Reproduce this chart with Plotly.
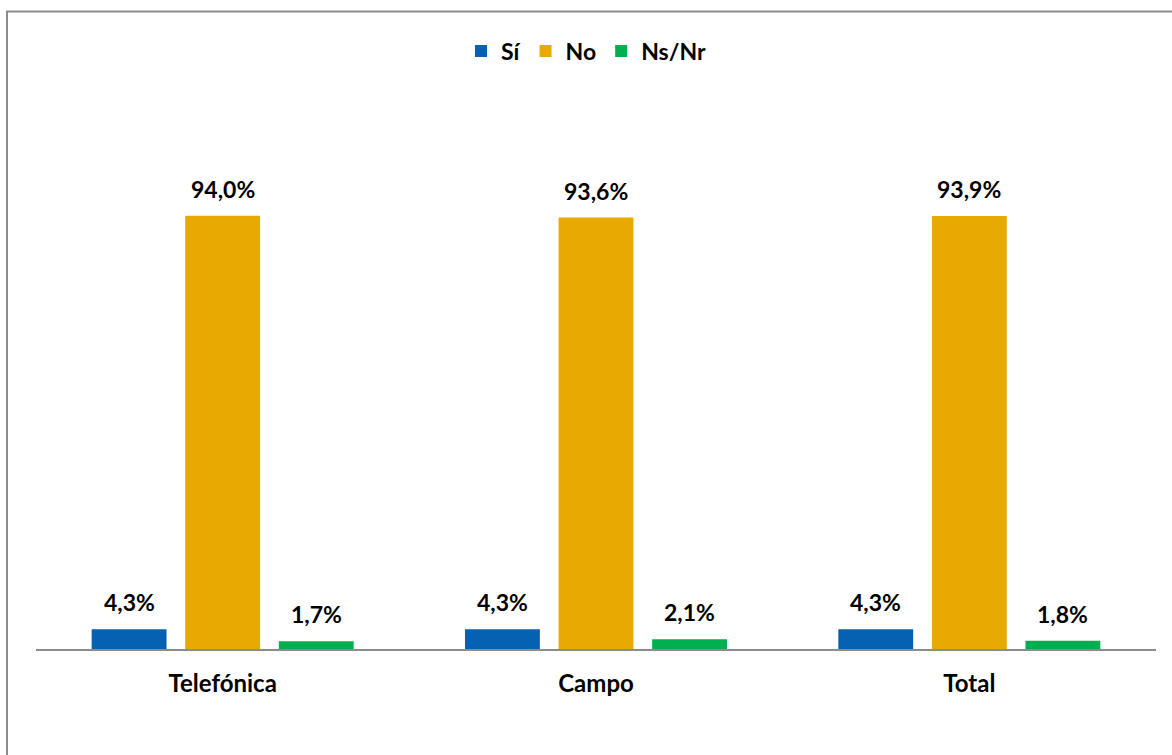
import plotly.graph_objects as go

categories = ["Telefónica", "Campo", "Total"]
si = [4.3, 4.3, 4.3]
no = [94.0, 93.6, 93.9]
nsnr = [1.7, 2.1, 1.8]

series = [("Sí", si, "#0562B2"), ("No", no, "#E9AA00"), ("Ns/Nr", nsnr, "#00B050")]

FONT = "Lato"
BARGAP = 0.248

fig = go.Figure()
annotations = []
n = len(series)
slot = (1 - BARGAP) / n
for k, (name, vals, color) in enumerate(series):
    fig.add_trace(go.Bar(
        name=name, x=list(range(len(categories))), y=vals,
        marker=dict(color=color, line=dict(width=0)),
        hoverinfo="skip",
    ))
    off = (k - (n - 1) / 2) * slot
    for i, v in enumerate(vals):
        annotations.append(dict(
            x=i + off, y=v, xref="x", yref="y",
            text=f"{v:.1f}%".replace(".", ","), showarrow=False,
            yanchor="middle", yshift=27,
            font=dict(family=FONT, size=23, color="#000000", weight="bold"),
        ))

W, H = 1172, 755
left, right_edge, axis_y = 35.5, 1156, 649
top_px = 188.4
fig.update_layout(
    width=W, height=H,
    margin=dict(l=left, r=W - right_edge, t=top_px, b=H - axis_y, pad=0, autoexpand=False),
    barmode="group", bargap=BARGAP, bargroupgap=0.2,
    plot_bgcolor="white", paper_bgcolor="white",
    font=dict(family=FONT, size=20, color="#000000"),
    showlegend=True,
    legend=dict(orientation="h", x=0.5, xanchor="center", xref="container",
                y=1 - 51 / H, yref="container", yanchor="middle",
                font=dict(family=FONT, size=23, color="#000000", weight="bold"),
                itemwidth=30, tracegroupgap=0, traceorder="normal"),
    xaxis=dict(showline=True, linecolor="#8C8C8C", linewidth=2, ticks="",
               tickmode="array", tickvals=list(range(len(categories))), ticktext=categories,
               range=[-0.5, len(categories) - 0.5],
               tickfont=dict(family=FONT, size=24, weight="bold"),
               showgrid=False, zeroline=False, ticklabelstandoff=12),
    yaxis=dict(range=[0, 100], visible=False, showgrid=False, zeroline=False),
    annotations=annotations,
    shapes=[dict(type="rect", xref="paper", yref="paper",
                 x0=(6.5 - left) / (right_edge - left), x1=(1200 - left) / (right_edge - left),
                 y0=(axis_y - 800) / (axis_y - top_px), y1=(axis_y - 12) / (axis_y - top_px),
                 line=dict(color="#8C8C8C", width=2), fillcolor="rgba(0,0,0,0)", layer="below")],
)

fig.write_html("out.html", config={"displayModeBar": False},
               post_script="document.body.style.margin='0';")
